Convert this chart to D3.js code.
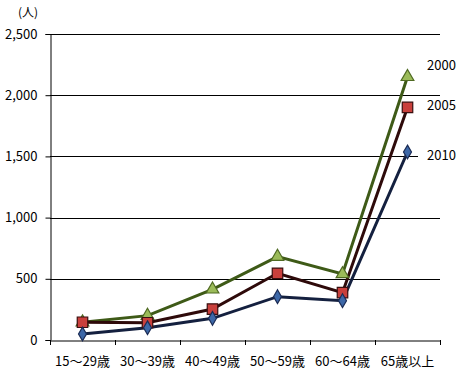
<!DOCTYPE html>
<html><head><meta charset="utf-8">
<script src="https://cdn.jsdelivr.net/npm/d3@7"></script>
<style>body{margin:0;background:#fff}text{font-family:"Noto Sans CJK JP","Noto Sans",sans-serif;fill:#000}</style>
</head><body><svg id="c" width="463" height="379"></svg>
<script>
const categories = ["15～29歳","30～39歳","40～49歳","50～59歳","60～64歳","65歳以上"];
const yTicks = [0,500,1000,1500,2000,2500];
const seriesNames = ["2000","2005","2010"];
const v2000 = [145,199,414,681,539,2150];
const v2005 = [145,141,253,545,387,1900];
const v2010 = [49,100,177,354,321,1536];

const svg = d3.select("#c");
const x = d3.scaleBand().domain(categories).range([50,440]);
const y = d3.scaleLinear().domain([0,2500]).range([340,34]);

// gridlines
svg.append("g").selectAll("line").data(yTicks.filter(d=>d>0)).join("line")
  .attr("x1",50).attr("x2",440).attr("y1",d=>Math.round(y(d))+0.5).attr("y2",d=>Math.round(y(d))+0.5)
  .attr("stroke","#000").attr("stroke-width",1);

// y axis
const ya = svg.append("g").attr("transform","translate(50.5,0)")
  .call(d3.axisLeft(y).tickValues(yTicks).tickFormat(d3.format(",")).tickSize(5).tickPadding(8));
ya.select(".domain").attr("stroke","#000");
ya.selectAll("text").style("font-size","13px");

// x axis
const xa = svg.append("g").attr("transform","translate(0,340.5)")
  .call(d3.axisBottom(x).tickSize(0).tickPadding(16));
xa.select(".domain").attr("stroke","#000");
xa.selectAll("text").style("font-size","13px");
svg.append("g").selectAll("line").data(d3.range(categories.length+1)).join("line")
  .attr("x1",i=>Math.round(50+i*x.step())+0.5).attr("x2",i=>Math.round(50+i*x.step())+0.5)
  .attr("y1",340).attr("y2",345).attr("stroke","#000");

svg.append("text").attr("x",28).attr("y",17).attr("text-anchor","middle").style("font-size","12px").text("(人)");

// labels (with white boxes)
const labY = {"2000":70,"2005":110,"2010":160};
seriesNames.forEach(n=>{
  svg.append("rect").attr("x",418).attr("y",labY[n]-12).attr("width",45).attr("height",16).attr("fill","#fff");
  svg.append("text").attr("x",427).attr("y",labY[n]).style("font-size","13px").text(n);
});

const cx = c => x(c)+x.bandwidth()/2;
const series = [
  {name:"2010", vals:v2010, line:"#14203f", fill:"#3d68a8", stroke:"#1c2c55", shape:d3.symbolDiamond, size:55},
  {name:"2005", vals:v2005, line:"#2e0a0a", fill:"#c9403c", stroke:"#3a0f0f", shape:d3.symbolSquare, size:110},
  {name:"2000", vals:v2000, line:"#3e5a17", fill:"#9bbb59", stroke:"#4f6a22", shape:d3.symbolTriangle, size:70},
];
const line = d3.line().x((d,i)=>cx(categories[i])).y(d=>y(d));
series.slice().reverse().forEach(s=>{
  svg.append("path").datum(s.vals).attr("d",line).attr("fill","none").attr("stroke",s.line).attr("stroke-width",3);
});
series.slice().reverse().forEach(s=>{
  svg.append("g").selectAll("path").data(s.vals).join("path")
    .attr("transform",(d,i)=>`translate(${cx(categories[i])},${y(d)})`)
    .attr("d",d3.symbol().type(s.shape).size(s.size))
    .attr("fill",s.fill).attr("stroke",s.stroke).attr("stroke-width",1.2);
});
</script></body></html>
